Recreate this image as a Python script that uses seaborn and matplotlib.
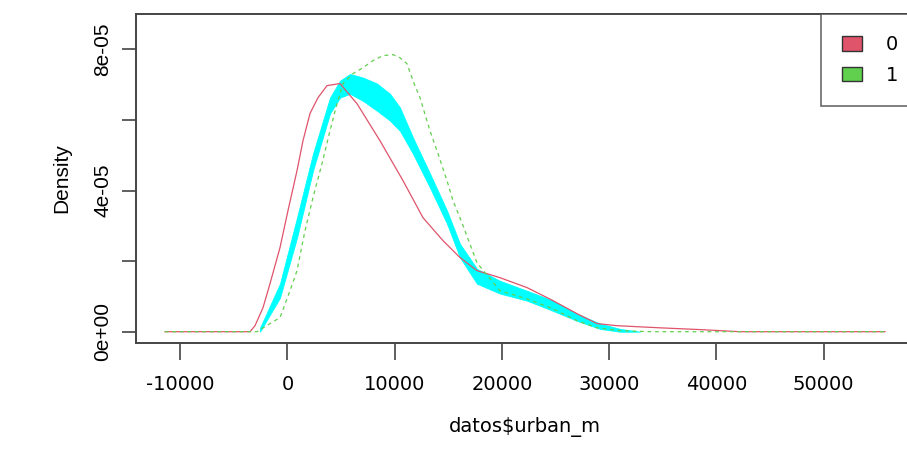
import numpy as np
import pandas as pd
import seaborn as sns
import matplotlib.pyplot as plt
from matplotlib.patches import Patch

# group 0 (solid red) density
x_g0 = [-11440, -3500, -3030, -2285, -1632, -700, 47, 886, 1446, 2099, 2845,
        3685, 4897, 6483, 8629, 10774, 12640, 14506, 16091, 17677, 19823,
        22341, 24767, 27006, 28871, 30737, 34748, 38480, 42211, 55750]
d_g0 = [0, 0, 0.17, 0.68, 1.36, 2.38, 3.43, 4.56, 5.41, 6.18, 6.63,
        6.97, 7.03, 6.46, 5.41, 4.28, 3.23, 2.58, 2.10, 1.73, 1.53,
        1.25, 0.88, 0.51, 0.23, 0.17, 0.11, 0.06, 0, 0]

# group 1 (dashed green)
x_g1 = [-11440, -2845, -1632, -700, 233, 886, 1632, 2379, 3218, 3965, 4618,
        5177, 6110, 7043, 7976, 8909, 9841, 10494, 11147, 11707, 12360,
        13293, 13946, 14879, 15438, 16091, 17677, 19823, 22341, 24767,
        27006, 28871, 31017, 33815, 55750]
d_g1 = [0, 0, 0.23, 0.40, 1.16, 1.73, 2.86, 3.80, 4.76, 5.69, 6.46,
        7.03, 7.31, 7.48, 7.68, 7.82, 7.85, 7.76, 7.59, 7.11, 6.63,
        5.69, 5.13, 4.28, 3.71, 3.23, 1.95, 1.16, 0.93, 0.65,
        0.31, 0.11, 0.03, 0, 0]

# reference band (cyan)
x_band = [-2565, -700, 886, 2379, 3965, 4897, 5830, 7043, 8349, 9562, 10494,
          11707, 13293, 14879, 16091, 17677, 19823, 22341, 24767, 27006,
          29151, 31017, 32883]
band_lo = [0, 0.96, 2.66, 4.56, 6.18, 6.63, 6.74, 6.54, 6.26, 5.98, 5.69,
           5.04, 4.08, 3.06, 2.10, 1.36, 1.08, 0.88, 0.59, 0.31,
           0.08, 0, 0]
band_hi = [0.11, 1.36, 3.23, 5.04, 6.63, 7.11, 7.30, 7.20, 7.03, 6.74, 6.35,
           5.50, 4.48, 3.43, 2.49, 1.78, 1.44, 1.16, 0.88, 0.51,
           0.23, 0.08, 0]

groups = ["0", "1"]
x_ticks = [-10000, 0, 10000, 20000, 30000, 40000, 50000]
y_ticks = [0, 2e-5, 4e-5, 6e-5, 8e-5]
y_ticklabels = ["0e+00", "", "4e-05", "", "8e-05"]

red = "#DF536B"
green = "#61D04F"
frame = "#444444"

sns.set_style("ticks")
plt.rcParams["font.family"] = ["Liberation Sans", "DejaVu Sans"]
plt.rcParams["text.color"] = "black"
plt.rcParams["axes.labelcolor"] = "black"
plt.rcParams["xtick.color"] = "black"
plt.rcParams["ytick.color"] = "black"

fig = plt.figure(figsize=(9.07, 4.61), dpi=100)
ax = fig.add_axes([136 / 907, 1 - 343 / 461, (914 - 136) / 907, (343 - 14) / 461])

scale = 1e-5
ax.fill_between(x_band, np.array(band_lo) * scale, np.array(band_hi) * scale,
                color="#00FFFF", lw=0.6, edgecolor="#00FFFF", zorder=2)

df0 = pd.DataFrame({"x": x_g0, "y": np.array(d_g0) * scale})
df1 = pd.DataFrame({"x": x_g1, "y": np.array(d_g1) * scale})
sns.lineplot(data=df0, x="x", y="y", ax=ax, color=red, lw=0.9,
             estimator=None, sort=False, zorder=3)
sns.lineplot(data=df1, x="x", y="y", ax=ax, color=green, lw=0.9,
             linestyle=(0, (3, 3)), estimator=None, sort=False, zorder=3)

ax.set_xlim(-14130, 58440)
ax.set_ylim(-0.32e-5, 9.0e-5)

ax.set_xticks(x_ticks)
ax.set_xticklabels([str(t) for t in x_ticks], family="DejaVu Sans", fontsize=14)
ax.set_yticks(y_ticks)
ax.set_yticklabels(y_ticklabels, rotation=90, va="center", fontsize=15)
ax.tick_params(axis="x", length=12, width=1.2, color=frame, labelcolor="black", pad=11)
ax.tick_params(axis="y", length=10, width=1.2, color=frame, labelcolor="black", pad=7)

for s in ax.spines.values():
    s.set_color(frame)
    s.set_linewidth(1.4)

ax.set_xlabel("datos$urban_m", family="DejaVu Sans", fontsize=14, color="black")
ax.set_ylabel("Density", fontsize=15, color="black")
ax.xaxis.set_label_coords(0.5, -0.225)
ax.yaxis.set_label_coords(-0.083, 0.5)

handles = [Patch(facecolor=red, edgecolor="#333333"),
           Patch(facecolor=green, edgecolor="#333333")]
leg = ax.legend(handles, groups, loc="upper left", bbox_to_anchor=(0.880, 1.0),
                borderaxespad=0, frameon=True, fancybox=False,
                edgecolor=frame, handlelength=1.05, handleheight=0.75,
                handletextpad=1.2, borderpad=1.1, labelspacing=0.6,
                prop={"family": "DejaVu Sans", "size": 14})
leg.get_frame().set_linewidth(1.2)

fig.savefig("out.png", dpi=100)
